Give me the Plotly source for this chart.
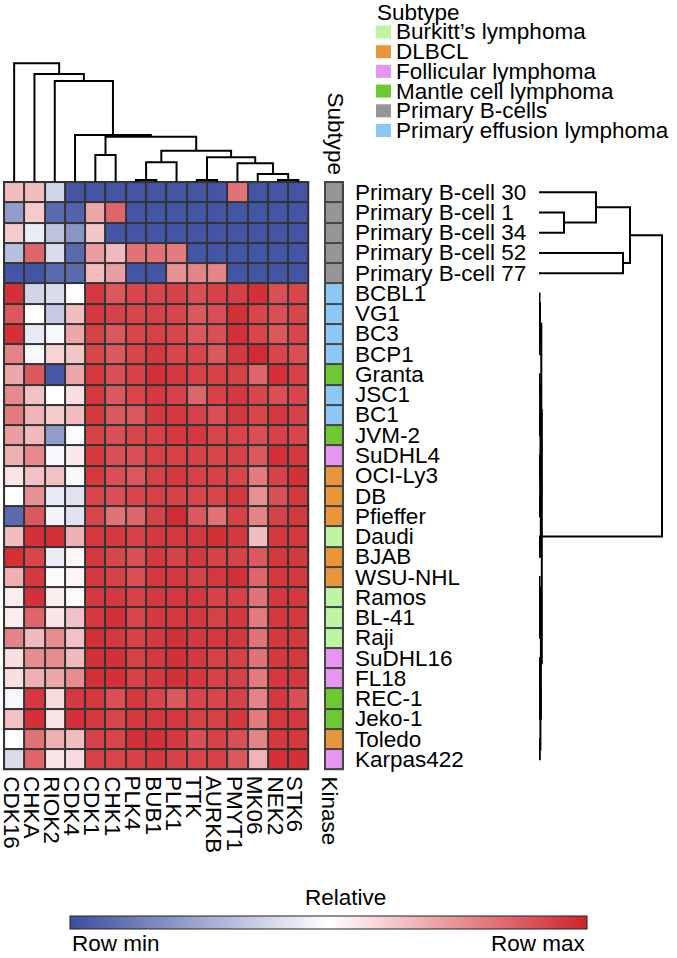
import plotly.graph_objects as go

W, H = 677, 958
FONT = "Liberation Sans, Arial, Helvetica, sans-serif"
FS = 22.5

kinases = ["CDK16", "CHKA", "RIOK2", "CDK4", "CDK1", "CHK1", "PLK4", "BUB1",
           "PLK1", "TTK", "AURKB", "PMYT1", "MK06", "NEK2", "STK6"]

samples = ["Primary B-cell 30", "Primary B-cell 1", "Primary B-cell 34", "Primary B-cell 52",
           "Primary B-cell 77", "BCBL1", "VG1", "BC3", "BCP1", "Granta", "JSC1", "BC1",
           "JVM-2", "SuDHL4", "OCI-Ly3", "DB", "Pfieffer", "Daudi", "BJAB", "WSU-NHL",
           "Ramos", "BL-41", "Raji", "SuDHL16", "FL18", "REC-1", "Jeko-1", "Toledo", "Karpas422"]

subtype_names = ["Burkitt\u2019s lymphoma", "DLBCL", "Follicular lymphoma",
                 "Mantle cell lymphoma", "Primary B-cells", "Primary effusion lymphoma"]
subtype_colors = ["#bdf5a5", "#e8963c", "#e696f0", "#6ec832", "#969696", "#8cc8f5"]

# index into subtype_names for each sample
sample_subtype = [4, 4, 4, 4, 4, 5, 5, 5, 5, 3, 5, 5, 3, 2, 1, 1, 1, 0, 1, 1,
                  0, 0, 0, 2, 2, 3, 3, 1, 2]

# relative (row-scaled) values: 0 = row min, 1 = row max
values = [
    [0.65, 0.65, 0.38, 0.02, 0.02, 0.02, 0.02, 0.02, 0.02, 0.02, 0.02, 0.82, 0.02, 0.02, 0.02],
    [0.22, 0.62, 0.08, 0.06, 0.70, 0.85, 0.02, 0.02, 0.02, 0.02, 0.02, 0.02, 0.02, 0.02, 0.02],
    [0.62, 0.45, 0.33, 0.20, 0.63, 0.02, 0.02, 0.02, 0.02, 0.02, 0.02, 0.02, 0.02, 0.02, 0.02],
    [0.32, 0.85, 0.40, 0.08, 0.72, 0.66, 0.82, 0.82, 0.80, 0.02, 0.02, 0.02, 0.02, 0.02, 0.02],
    [0.02, 0.02, 0.08, 0.08, 0.65, 0.72, 0.02, 0.02, 0.75, 0.78, 0.78, 0.02, 0.02, 0.02, 0.02],
    [0.97, 0.38, 0.40, 0.50, 0.95, 0.88, 0.92, 0.92, 0.93, 0.90, 0.93, 0.94, 0.97, 0.90, 0.92],
    [0.88, 0.50, 0.35, 0.65, 0.95, 0.93, 0.92, 0.93, 0.92, 0.88, 0.90, 0.97, 0.92, 0.90, 0.92],
    [0.97, 0.44, 0.48, 0.70, 0.93, 0.88, 0.92, 0.93, 0.92, 0.88, 0.90, 0.97, 0.92, 0.88, 0.92],
    [0.78, 0.48, 0.60, 0.63, 0.92, 0.88, 0.92, 0.95, 0.92, 0.92, 0.88, 0.95, 0.98, 0.92, 0.90],
    [0.70, 0.88, 0.03, 0.70, 0.95, 0.90, 0.93, 0.97, 0.95, 0.93, 0.93, 0.93, 0.85, 0.97, 0.93],
    [0.77, 0.64, 0.50, 0.57, 0.95, 0.88, 0.92, 0.95, 0.93, 0.85, 0.93, 0.95, 0.92, 0.90, 0.92],
    [0.80, 0.67, 0.62, 0.65, 0.95, 0.88, 0.88, 0.95, 0.95, 0.93, 0.90, 0.95, 0.92, 0.95, 0.93],
    [0.72, 0.66, 0.22, 0.49, 0.93, 0.90, 0.92, 0.93, 0.95, 0.95, 0.92, 0.92, 0.90, 0.93, 0.92],
    [0.68, 0.77, 0.48, 0.55, 0.95, 0.90, 0.90, 0.93, 0.93, 0.93, 0.92, 0.93, 0.88, 0.97, 0.95],
    [0.56, 0.64, 0.64, 0.48, 0.95, 0.90, 0.88, 0.93, 0.95, 0.93, 0.93, 0.92, 0.80, 0.93, 0.97],
    [0.50, 0.75, 0.44, 0.42, 0.92, 0.90, 0.92, 0.93, 0.93, 0.92, 0.92, 0.95, 0.75, 0.90, 0.95],
    [0.08, 0.88, 0.47, 0.42, 0.92, 0.82, 0.85, 0.93, 0.98, 0.88, 0.82, 0.93, 0.78, 0.93, 0.95],
    [0.65, 0.97, 0.97, 0.68, 0.95, 0.95, 0.93, 0.95, 0.95, 0.95, 0.97, 0.95, 0.65, 0.95, 0.95],
    [0.97, 0.92, 0.45, 0.52, 0.95, 0.92, 0.90, 0.95, 0.93, 0.95, 0.93, 0.93, 0.88, 0.95, 0.95],
    [0.68, 0.95, 0.49, 0.52, 0.95, 0.93, 0.90, 0.95, 0.95, 0.93, 0.95, 0.97, 0.85, 0.95, 0.95],
    [0.54, 0.97, 0.54, 0.49, 0.95, 0.95, 0.93, 0.95, 0.95, 0.95, 0.93, 0.93, 0.82, 0.95, 0.95],
    [0.54, 0.85, 0.56, 0.64, 0.95, 0.97, 0.92, 0.95, 0.95, 0.95, 0.93, 0.95, 0.80, 0.95, 0.95],
    [0.78, 0.66, 0.76, 0.64, 0.97, 0.95, 0.93, 0.95, 0.97, 0.95, 0.95, 0.95, 0.82, 0.95, 0.95],
    [0.57, 0.76, 0.76, 0.66, 0.97, 0.97, 0.93, 0.95, 0.97, 0.95, 0.93, 0.93, 0.82, 0.95, 0.95],
    [0.57, 0.68, 0.70, 0.76, 0.97, 0.97, 0.93, 0.95, 0.97, 0.95, 0.93, 0.93, 0.80, 0.95, 0.95],
    [0.48, 0.95, 0.58, 0.95, 0.95, 0.90, 0.95, 0.92, 0.88, 0.92, 0.92, 0.93, 0.78, 0.95, 0.90],
    [0.64, 0.97, 0.56, 0.97, 0.95, 0.92, 0.95, 0.95, 0.95, 0.93, 0.93, 0.95, 0.80, 0.95, 0.95],
    [0.50, 0.82, 0.68, 0.65, 0.93, 0.92, 0.97, 0.97, 0.95, 0.90, 0.93, 0.90, 0.78, 0.95, 0.95],
    [0.40, 0.85, 0.56, 0.58, 0.93, 0.92, 0.93, 0.95, 0.93, 0.92, 0.93, 0.88, 0.67, 0.97, 0.97],
]

# column dendrogram: (left, right, merge height); ints are column indices
col_tree = (0, (1, (2, (3, ((4, 5, 27),
                           (((6, 7, 2), 8, 19.7),
                            ((9, 10, 2), (11, (12, (13, 14, 2), 8), 18.7), 24.7),
                            31.3), 45.3), 47), 101), 108), 118.7)

# row dendrogram: ints are row indices
row_tree_pb = ((0, (1, 2, 25), 57), (3, 4, 84), 91)
row_tree_cl = (
    (((5, 6, 0.5), (7, 8, 0.7), 1.0),
     ((((9, 10, 0.6), (11, 12, 0.5), 1.1), ((13, 14, 0.6), (15, 16, 0.8), 1.2), 1.5),
      (17, 18, 0.9), 1.8), 2.3),
    ((((19, 20, 0.5), (21, 22, 0.7), 1.0)),
     ((((23, 24, 0.4), (25, 26, 0.6), 0.9)), (27, 28, 0.8), 1.4), 1.9),
    2.8)
row_tree = (row_tree_pb, row_tree_cl, 123)


def px(x):
    return x / W


def py(y):
    return 1 - y / H


def dendro(tree):
    pos_list, h_list = [], []

    def walk(node):
        if isinstance(node, int):
            return float(node), 0.0
        a, b, h = node
        pa, ha = walk(a)
        pb, hb = walk(b)
        pos_list.extend([pa, pa, pb, pb, None])
        h_list.extend([ha, h, h, hb, None])
        return (pa + pb) / 2, h

    walk(tree)
    return pos_list, h_list


nrow, ncol = len(samples), len(kinases)
E = 0.05

fig = go.Figure()

# main heatmap
fig.add_trace(go.Heatmap(
    z=values, x=list(range(ncol)), y=list(range(nrow)),
    zmin=0, zmax=1, xgap=2, ygap=2,
    colorscale=[[0, "#3b4ea0"], [0.5, "#ffffff"], [1, "#d0232a"]],
    hoverinfo="skip",
    colorbar=dict(orientation="h", x=px((70.5 + 587) / 2), xanchor="center",
                  y=py(916), yanchor="top", len=516.5, lenmode="pixels",
                  thickness=13, xpad=0, ypad=0, outlinewidth=1, outlinecolor="#222",
                  showticklabels=False, ticks=""),
    xaxis="x", yaxis="y"))

# subtype annotation column
n_sub = len(subtype_names)
cs = []
for k, c in enumerate(subtype_colors):
    cs.append([max(0, (k - 0.5) / (n_sub - 1)), c])
    cs.append([min(1, (k + 0.5) / (n_sub - 1)), c])
fig.add_trace(go.Heatmap(
    z=[[s] for s in sample_subtype], x=[0], y=list(range(nrow)),
    zmin=0, zmax=n_sub - 1, colorscale=cs, showscale=False, xgap=2, ygap=2,
    hoverinfo="skip", xaxis="x3", yaxis="y"))

# dendrograms
cx, ch = dendro(col_tree)
fig.add_trace(go.Scatter(x=cx, y=ch, mode="lines", line=dict(color="black", width=2),
                         hoverinfo="skip", showlegend=False, xaxis="x", yaxis="y2"))
ry, rh = dendro(row_tree)
fig.add_trace(go.Scatter(x=rh, y=ry, mode="lines", line=dict(color="black", width=2),
                         hoverinfo="skip", showlegend=False, xaxis="x2", yaxis="y"))

shapes = [
    dict(type="rect", xref="x", yref="y", x0=-0.5 - E, x1=ncol - 0.5 + E,
         y0=-0.5 - E, y1=nrow - 0.5 + E, fillcolor="#333333", line=dict(width=0), layer="below"),
    dict(type="rect", xref="x3", yref="y", x0=-0.5 - E, x1=0.5 + E,
         y0=-0.5 - E, y1=nrow - 0.5 + E, fillcolor="#444444", line=dict(width=0), layer="below"),
]

ann = []
tf = dict(family=FONT, size=FS, color="black")
for i, s in enumerate(samples):
    ann.append(dict(x=px(353), xref="paper", xanchor="left", y=i, yref="y", yanchor="middle",
                    text=s, showarrow=False, font=tf))
for j, k in enumerate(kinases):
    ann.append(dict(x=j, xref="x", xanchor="center", xshift=-3, y=py(774), yref="paper",
                    yanchor="top", text=k, textangle=90, showarrow=False, font=tf))
ann.append(dict(x=px(329), xref="paper", xanchor="center", y=py(774), yref="paper",
                yanchor="top", text="Kinase", textangle=90, showarrow=False, font=tf))
ann.append(dict(x=px(335), xref="paper", xanchor="center", y=py(177), yref="paper",
                yanchor="bottom", text="Subtype", textangle=90, showarrow=False, font=tf))

# legend
ann.append(dict(x=px(375), xref="paper", xanchor="left", y=py(12), yref="paper",
                yanchor="middle", text="Subtype", showarrow=False, font=tf))
for k, (nm, c) in enumerate(zip(subtype_names, subtype_colors)):
    yc = 32 + 19.7 * k
    shapes.append(dict(type="rect", xref="paper", yref="paper", x0=px(376), x1=px(391),
                       y0=py(yc + 6.5), y1=py(yc - 6.5), fillcolor=c, line=dict(width=0)))
    ann.append(dict(x=px(394), xref="paper", xanchor="left", y=py(yc), yref="paper",
                    yanchor="middle", text=nm, showarrow=False, font=tf))

# colorbar texts
ann.append(dict(x=px(345), xref="paper", xanchor="center", y=py(897), yref="paper",
                yanchor="middle", text="Relative", showarrow=False, font=tf))
ann.append(dict(x=px(70), xref="paper", xanchor="left", y=0, yref="paper",
                yanchor="bottom", text="Row min", showarrow=False, font=tf))
ann.append(dict(x=px(588), xref="paper", xanchor="right", y=0, yref="paper",
                yanchor="bottom", text="Row max", showarrow=False, font=tf))

hidden = dict(showgrid=False, zeroline=False, showticklabels=False, ticks="", showline=False)
fig.update_layout(
    width=W, height=H, autosize=False,
    margin=dict(l=0, r=0, t=0, b=0),
    paper_bgcolor="white", plot_bgcolor="rgba(0,0,0,0)",
    showlegend=False,
    font=dict(family=FONT, color="black"),
    xaxis=dict(domain=[px(3), px(309.5)], range=[-0.5 - E, ncol - 0.5 + E], anchor="y", **hidden),
    yaxis=dict(domain=[py(770.5), py(181)], range=[nrow - 0.5 + E, -0.5 - E], anchor="x", **hidden),
    yaxis2=dict(domain=[py(182), py(62)], range=[0, 120], anchor="x", **hidden),
    xaxis2=dict(domain=[px(539), px(669)], range=[0, 130], anchor="y", **hidden),
    xaxis3=dict(domain=[px(324), px(344)], range=[-0.5 - E, 0.5 + E], anchor="y", **hidden),
    shapes=shapes,
    annotations=ann,
)

fig.write_html("out.html", config={"displayModeBar": False},
               post_script="document.body.style.margin='0px';")
